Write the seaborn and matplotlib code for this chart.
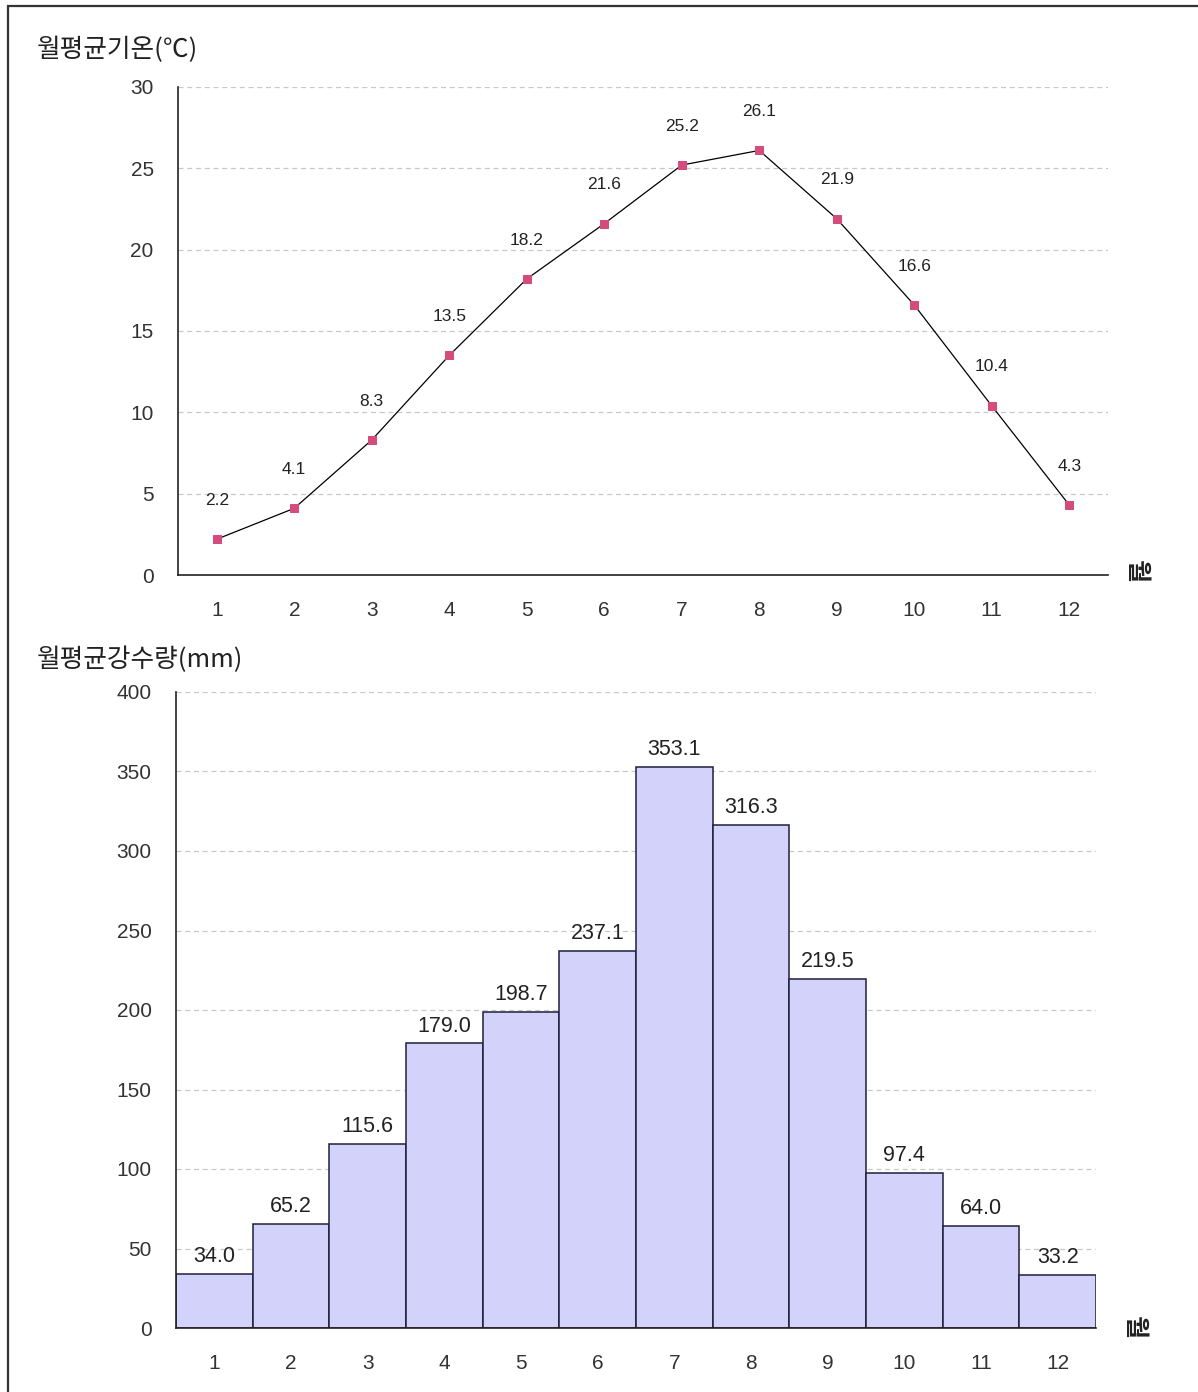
import matplotlib
matplotlib.use("Agg")
import matplotlib.pyplot as plt
from matplotlib.patches import Rectangle
import seaborn as sns
import pandas as pd

# Monthly climate normals
months = [1, 2, 3, 4, 5, 6, 7, 8, 9, 10, 11, 12]
temperature = [2.2, 4.1, 8.3, 13.5, 18.2, 21.6, 25.2, 26.1, 21.9, 16.6, 10.4, 4.3]
precipitation = [34.0, 65.2, 115.6, 179.0, 198.7, 237.1, 353.1, 316.3, 219.5, 97.4, 64.0, 33.2]

temp_title = "월평균기온(℃)"
precip_title = "월평균강수량(mm)"
month_label = "월"
temp_ticks = [0, 5, 10, 15, 20, 25, 30]
precip_ticks = [0, 50, 100, 150, 200, 250, 300, 350, 400]

sns.set_theme(style="white")
plt.rcParams["font.family"] = ["Liberation Sans", "Noto Sans CJK KR", "DejaVu Sans"]
KR = ["Noto Sans CJK KR", "Liberation Sans", "DejaVu Sans"]

W, H = 1198, 1392
fig = plt.figure(figsize=(W / 100, H / 100), dpi=100)
fig.patch.set_facecolor("white")

# outer frame
fig.patches.append(Rectangle((7.5 / W, -0.01), 1.1, (H - 5.5) / H + 0.01,
                             transform=fig.transFigure, fill=False,
                             edgecolor="#333333", linewidth=1.6))

tick_color = "#333333"
grid_kw = dict(color="#c8c8c8", linestyle=(0, (4, 3)), linewidth=0.9)


def style_axes(ax, ticks, xlab_x, xlab_y):
    for side in ("top", "right"):
        ax.spines[side].set_visible(False)
    for side in ("left", "bottom"):
        ax.spines[side].set_color("#222222")
        ax.spines[side].set_linewidth(1.2)
    ax.set_yticks(ticks)
    ax.set_yticklabels([str(t) for t in ticks])
    ax.tick_params(axis="both", direction="out", length=8.5, width=1.1,
                   color="#222222", labelsize=15, labelcolor=tick_color)
    ax.tick_params(axis="y", pad=9)
    ax.tick_params(axis="x", pad=10)
    ax.set_axisbelow(True)
    ax.yaxis.grid(True, **grid_kw)
    ax.xaxis.grid(False)
    ax.set_xlabel("")
    ax.set_ylabel("")
    fig.text(xlab_x / W, 1 - xlab_y / H, month_label, rotation=270,
             ha="center", va="center", fontsize=18, color="#222222",
             family=KR, fontweight="bold")


# ---- temperature line chart ----
ax1 = fig.add_axes([178 / W, 1 - 575 / H, (1108 - 178) / W, (575 - 87) / H])
df_t = pd.DataFrame({"month": months, "temp": temperature})
sns.lineplot(data=df_t, x="month", y="temp", ax=ax1, color="black",
             linewidth=0.9, marker="s", markersize=5.5,
             markerfacecolor="#d44c7c", markeredgecolor="#d44c7c")
ax1.set_xlim(0.5, 12.5)
ax1.set_ylim(0, 30)
ax1.set_xticks(months)
ax1.set_xticklabels([str(m) for m in months])
style_axes(ax1, temp_ticks, 1136, 572)
for m, v in zip(months, temperature):
    ax1.annotate(f"{v:.1f}", (m, v), xytext=(0, 28), textcoords="offset points",
                 ha="center", va="center", fontsize=12.5, color="#222222")
fig.text(37 / W, 1 - 50 / H, temp_title, ha="left", va="center",
         fontsize=18.5, color="#222222", family=KR)

# ---- precipitation bar chart ----
ax2 = fig.add_axes([176 / W, 1 - 1328 / H, (1096 - 176) / W, (1328 - 692) / H])
df_p = pd.DataFrame({"month": [str(m) for m in months], "rain": precipitation})
sns.barplot(data=df_p, x="month", y="rain", ax=ax2, color="#d2d2fa",
            saturation=1, width=1.0, edgecolor="#1e1e3c", linewidth=1.1)
ax2.set_xlim(-0.5, 11.5)
ax2.set_ylim(0, 400)
style_axes(ax2, precip_ticks, 1134, 1327)
for i, v in enumerate(precipitation):
    ax2.annotate(f"{v:.1f}", (i, v), xytext=(0, 12.5), textcoords="offset points",
                 ha="center", va="center", fontsize=15.5, color="#222222")
fig.text(37 / W, 1 - 660 / H, precip_title, ha="left", va="center",
         fontsize=18.5, color="#222222", family=KR)

fig.savefig("out.png", dpi=100, facecolor="white")
